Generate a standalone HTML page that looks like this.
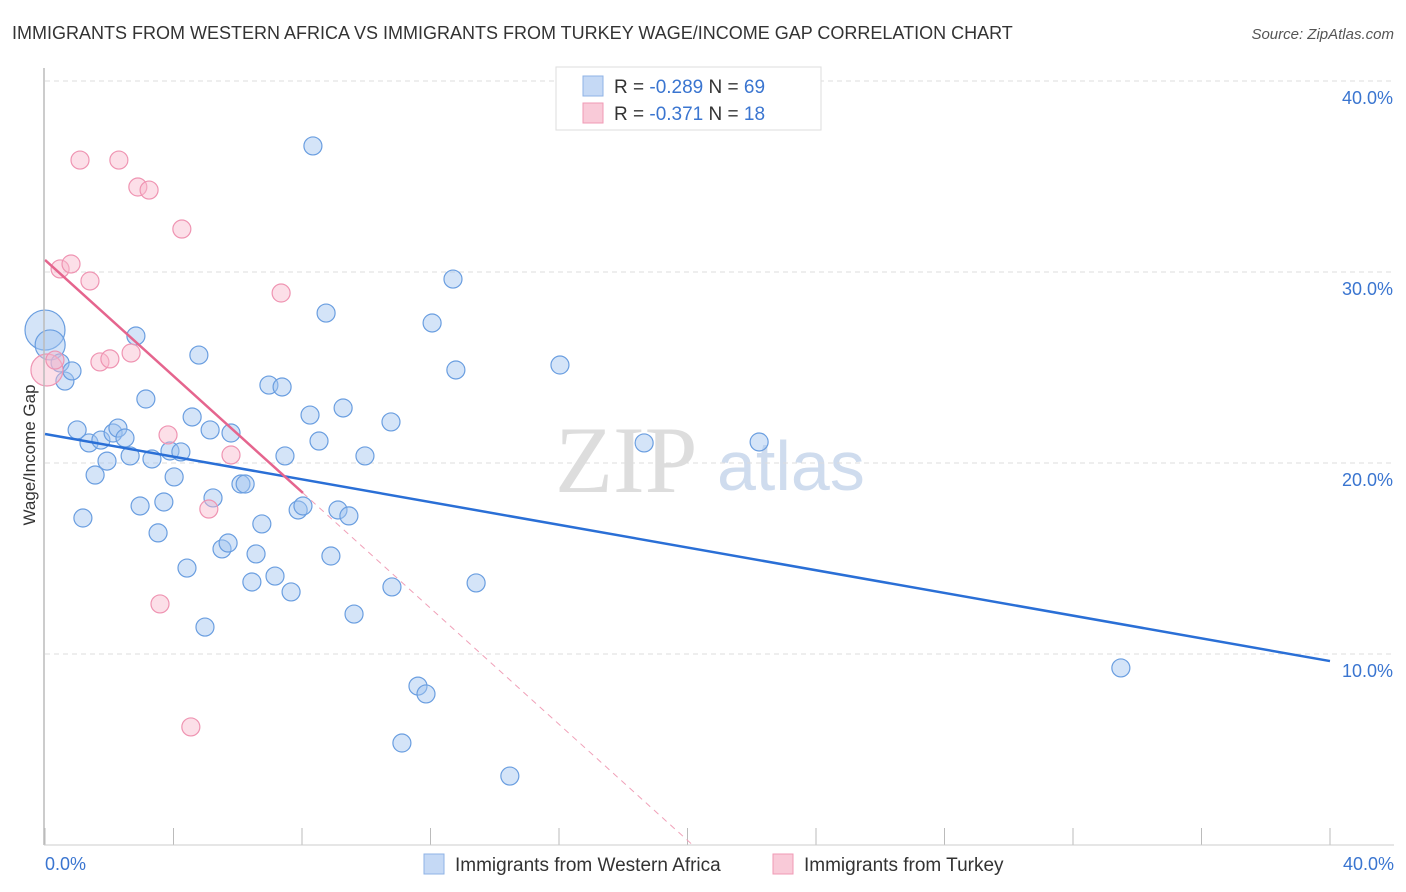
<!DOCTYPE html>
<html><head><meta charset="utf-8"><style>
body{margin:0;background:#fff;font-family:"Liberation Sans",sans-serif;}
#wrap{position:relative;width:1406px;height:892px;overflow:hidden}
</style></head><body>
<div id="wrap">
<svg id="svg" width="1406" height="892" xmlns="http://www.w3.org/2000/svg">
<text x="12" y="39" font-size="18" fill="#333">IMMIGRANTS FROM WESTERN AFRICA VS IMMIGRANTS FROM TURKEY WAGE/INCOME GAP CORRELATION CHART</text>
<text x="1394" y="39" font-size="15" fill="#555" text-anchor="end" font-style="italic">Source: ZipAtlas.com</text>
<text x="35" y="455" font-size="17" fill="#333" text-anchor="middle" transform="rotate(-90 35 455)">Wage/Income Gap</text>
<text x="555" y="492" font-size="95" fill="#ddd" font-family="Liberation Serif,serif">ZIP</text>
<text x="717" y="490" font-size="70" fill="#cfdcee">atlas</text>
<g id="grid"></g><g id="marks"></g>
<line x1="44" y1="68" x2="44" y2="845" stroke="#bbb" stroke-width="1.5"/>
<line x1="44" y1="845" x2="1394" y2="845" stroke="#ccc" stroke-width="1"/>
<text x="45" y="870" font-size="18" fill="#3a75d0">0.0%</text>
<text x="1394" y="870" font-size="18" fill="#3a75d0" text-anchor="end">40.0%</text>
<g>
<rect x="556" y="67" width="265" height="63" fill="#fff" stroke="#ddd"/>
<rect x="583" y="76" width="20" height="20" fill="#c5d9f5" stroke="#8fb3e6"/>
<rect x="583" y="103" width="20" height="20" fill="#f9cad8" stroke="#f09ab5"/>
<text x="614" y="93" font-size="19" fill="#333">R = <tspan fill="#3a75d0">-0.289</tspan>   N = <tspan fill="#3a75d0">69</tspan></text>
<text x="614" y="120" font-size="19" fill="#333">R =  <tspan fill="#3a75d0">-0.371</tspan>   N =  <tspan fill="#3a75d0">18</tspan></text>
</g>
<g>
<rect x="424" y="854" width="20" height="20" fill="#c5d9f5" stroke="#8fb3e6"/>
<text x="455" y="871" font-size="19" fill="#333">Immigrants from Western Africa</text>
<rect x="773" y="854" width="20" height="20" fill="#f9cad8" stroke="#f09ab5"/>
<text x="804" y="871" font-size="19" fill="#333">Immigrants from Turkey</text>
</g>
</svg></div>
<script>
const yTicks=[10,20,30,40];
const xTicks=[0,4,8,12,16,20,24,28,32,36,40];
const blueX=[0,0.16,0.47,0.62,0.84,1.0,1.18,1.37,1.56,1.74,1.93,2.12,2.27,2.49,2.65,2.83,2.96,3.14,3.33,3.52,3.70,3.89,4.02,4.23,4.42,4.58,4.79,4.98,5.14,5.23,5.51,5.70,5.79,6.10,6.23,6.44,6.57,6.75,6.97,7.16,7.38,7.47,7.66,7.88,8.03,8.25,8.34,8.53,8.75,8.90,9.12,9.28,9.46,9.62,9.96,10.77,10.80,11.11,11.61,11.86,12.05,12.70,12.79,13.42,14.47,16.03,18.65,22.23,33.49];
const blueY=[26.96,26.18,25.24,24.29,24.82,21.73,17.12,21.05,19.37,21.20,20.10,21.57,21.83,21.31,20.37,26.65,17.75,23.35,20.21,16.34,17.96,20.63,19.27,20.58,14.50,22.41,25.65,11.41,21.73,18.17,15.50,15.81,21.57,18.90,18.90,13.77,15.24,16.81,24.08,14.08,23.98,20.37,13.25,17.54,17.75,22.51,36.60,21.15,27.85,15.13,17.54,22.88,17.23,12.09,20.37,22.15,13.51,5.34,8.32,7.91,27.33,29.63,24.87,13.72,3.61,25.13,21.05,21.10,9.27];
const pinkX=[0.06,0.31,0.47,0.81,1.09,1.40,1.71,2.02,2.30,2.68,2.89,3.24,3.58,3.83,4.26,4.54,5.10,5.79,7.35];
const pinkY=[24.87,25.39,30.16,30.42,35.86,29.53,25.29,25.45,35.86,25.76,34.45,34.29,12.62,21.47,32.25,6.18,17.59,20.42,28.90];
const blueTrend=[21.52,9.63];
const pinkTrend=[30.63,18.43];
const pinkTrendEnd=8.03;
const sx=v=>45+v*32.125, sy=v=>845-v*19.1;
const NS="http://www.w3.org/2000/svg";
const grid=document.getElementById('grid'), marks=document.getElementById('marks');
function mk(tag,a,p){const e=document.createElementNS(NS,tag);for(const k in a)e.setAttribute(k,a[k]);p.appendChild(e);return e;}
yTicks.forEach(t=>{
 const l=mk('line',{x1:45,x2:1394,y1:sy(t),y2:sy(t),stroke:'#ddd','stroke-dasharray':'5,4'},grid);
 
 
 const tx=mk('text',{x:1393,y:sy(t)+23,'font-size':18,fill:'#3a75d0','text-anchor':'end'},grid);
 tx.textContent=t.toFixed(1)+'%';
 
 
});
xTicks.forEach(t=>{
 const l=mk('line',{x1:sx(t),x2:sx(t),y1:828,y2:845,stroke:'#bbb'},grid);
 
 
});
blueX.forEach((x,i)=>{
 const r=i==0?20:(i==1?15:9);
 const c=mk('circle',{cx:sx(x),cy:sy(blueY[i]),r:r,fill:'rgba(160,195,240,0.45)',stroke:'#6a9ee0','stroke-width':1.2},marks);
 
 
});
pinkX.forEach((x,i)=>{
 const r=i==0?16:9;
 const c=mk('circle',{cx:sx(x),cy:sy(pinkY[i]),r:r,fill:'rgba(248,185,205,0.45)',stroke:'#ef94b2','stroke-width':1.2},marks);
 
 
});
const slope=(pinkTrend[1]-pinkTrend[0])/pinkTrendEnd, zeroX=-pinkTrend[0]/slope;
const d=mk('line',{x1:sx(pinkTrendEnd),y1:sy(pinkTrend[1]),x2:sx(zeroX),y2:sy(0),stroke:'#f0a0b8','stroke-dasharray':'6,5'},marks);


const bl=mk('line',{x1:sx(0),y1:sy(blueTrend[0]),x2:sx(40),y2:sy(blueTrend[1]),stroke:'#2a6fd6','stroke-width':2.5},marks);


const pl=mk('line',{x1:sx(0),y1:sy(pinkTrend[0]),x2:sx(pinkTrendEnd),y2:sy(pinkTrend[1]),stroke:'#e5658e','stroke-width':2.5},marks);


</script>
</body></html>
